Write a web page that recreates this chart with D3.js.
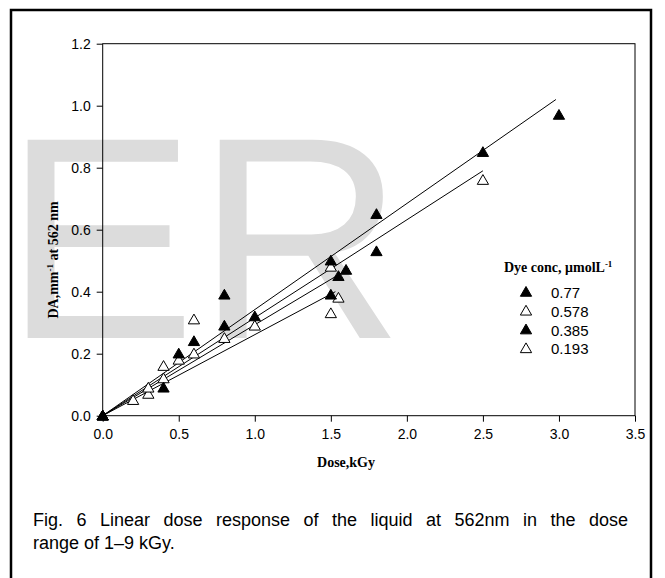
<!DOCTYPE html>
<html><head><meta charset="utf-8">
<script src="https://cdn.jsdelivr.net/npm/d3@7"></script>
<style>body{margin:0;background:#fff}svg{display:block}</style>
</head><body>
<script>
// ---- data ----
const xTicks = [0.0, 0.5, 1.0, 1.5, 2.0, 2.5, 3.0, 3.5];
const yTicks = [0.0, 0.2, 0.4, 0.6, 0.8, 1.0, 1.2];
const seriesNames = ["0.77", "0.578", "0.385", "0.193"];
const seriesFilled = [true, false, true, false];
const dose077 = [0, 0.5, 0.8, 1.0, 1.5, 1.8, 2.5, 3.0];
const da077   = [0, 0.20, 0.39, 0.32, 0.50, 0.65, 0.85, 0.97];
const dose0578 = [0, 0.3, 0.4, 0.5, 0.6, 0.8, 1.0, 1.5, 2.5];
const da0578   = [0, 0.09, 0.16, 0.18, 0.31, 0.25, 0.29, 0.48, 0.76];
const dose0385 = [0, 0.4, 0.6, 0.8, 1.5, 1.55, 1.6, 1.8];
const da0385   = [0, 0.09, 0.24, 0.29, 0.39, 0.45, 0.47, 0.53];
const dose0193 = [0, 0.2, 0.3, 0.4, 0.6, 1.5, 1.55];
const da0193   = [0, 0.05, 0.07, 0.12, 0.20, 0.33, 0.38];
// fitted lines through origin: end point of each
const fitEndDose = [2.98, 2.50, 1.62, 1.53];
const fitEndDA   = [1.02, 0.79, 0.475, 0.40];
const xTitle = "Dose,kGy";
const captionLines = ["Fig. 6 Linear dose response of the liquid at 562nm in the dose", "range of 1\u20139 kGy."];

const doses = [dose077, dose0578, dose0385, dose0193];
const das = [da077, da0578, da0385, da0193];

const W = 665, H = 578;
const svg = d3.select("body").append("svg").attr("width", W).attr("height", H);
svg.append("rect").attr("width", W).attr("height", H).attr("fill", "#fff");

// watermark
svg.append("text").attr("x", 4).attr("y", 338)
  .attr("font-family", "Liberation Sans, Arial, sans-serif").attr("font-size", 288)
  .attr("fill", "#dcdcdc").text("ER");

// outer frame
svg.append("rect").attr("x", 11).attr("y", 10).attr("width", 640).attr("height", 620)
  .attr("fill", "none").attr("stroke", "#000").attr("stroke-width", 2.5);

const L = 102.7, R = 635, T = 43.7, B = 415.7;
const x = d3.scaleLinear().domain([0, 3.5]).range([L, R]);
const y = d3.scaleLinear().domain([0, 1.2]).range([B, T]);

const tickFont = "Liberation Sans, Arial, sans-serif";
const gx = svg.append("g").attr("transform", `translate(0,${B})`)
  .call(d3.axisBottom(x).tickValues(xTicks).tickFormat(d3.format(".1f")).tickSize(6).tickPadding(7));
const gy = svg.append("g").attr("transform", `translate(${L},0)`)
  .call(d3.axisLeft(y).tickValues(yTicks).tickFormat(d3.format(".1f")).tickSize(6).tickPadding(6));
[gx, gy].forEach(g => {
  g.select(".domain").remove();
  g.selectAll("line").attr("stroke", "#000").attr("stroke-width", 1);
  g.selectAll("text").attr("font-family", tickFont).attr("font-size", 14).attr("fill", "#000");
});
// plot box
svg.append("rect").attr("x", L).attr("y", T).attr("width", R - L).attr("height", B - T)
  .attr("fill", "none").attr("stroke", "#000").attr("stroke-width", 1);

// fit lines
fitEndDose.forEach((d, i) => {
  svg.append("line").attr("x1", x(0)).attr("y1", y(0)).attr("x2", x(d)).attr("y2", y(fitEndDA[i]))
    .attr("stroke", "#000").attr("stroke-width", 1);
});

const tri = d3.symbol().type(d3.symbolTriangle).size(55);
function marker(g, filled) {
  g.attr("d", tri).attr("fill", filled ? "#000" : "#fff").attr("stroke", "#000").attr("stroke-width", 1);
}
// draw open series first, then filled
[3, 1, 2, 0].forEach(i => {
  svg.append("g").selectAll("path").data(doses[i].map((d, k) => [d, das[i][k]])).join("path")
    .attr("transform", d => `translate(${x(d[0])},${y(d[1]) + 1})`)
    .call(marker, seriesFilled[i]);
});

// axis titles
svg.append("text").attr("x", 346).attr("y", 467).attr("text-anchor", "middle")
  .attr("font-family", "Liberation Serif, Times New Roman, serif").attr("font-weight", "bold")
  .attr("font-size", 14).text(xTitle);
const yl = svg.append("text").attr("transform", "translate(58,260) rotate(-90)").attr("text-anchor", "middle")
  .attr("font-family", "Liberation Serif, Times New Roman, serif").attr("font-weight", "bold").attr("font-size", 14);
yl.append("tspan").text("DA,mm");
yl.append("tspan").attr("dy", -5).attr("font-size", 9).text("-1");
yl.append("tspan").attr("dy", 5).text(" at 562 nm");

// legend
const lt = svg.append("text").attr("x", 504).attr("y", 272)
  .attr("font-family", "Liberation Serif, Times New Roman, serif").attr("font-weight", "bold").attr("font-size", 14);
lt.append("tspan").text("Dye conc, \u03bcmolL");
lt.append("tspan").attr("dy", -5).attr("font-size", 9).text("-1");
seriesNames.forEach((n, i) => {
  const cy = 293 + i * 18.8;
  svg.append("path").attr("transform", `translate(526,${cy})`).call(marker, seriesFilled[i]);
  svg.append("text").attr("x", 551).attr("y", cy + 5).attr("font-family", tickFont).attr("font-size", 15).text(n);
});

// caption
const capFont = 18;
const c1 = svg.append("text").attr("x", 33).attr("y", 526).attr("font-family", tickFont)
  .attr("font-size", capFont).text(captionLines[0]);
const w1 = c1.node().getComputedTextLength();
const spaces = (captionLines[0].match(/ /g) || []).length;
c1.attr("word-spacing", (628 - 33 - w1) / spaces);
svg.append("text").attr("x", 33).attr("y", 549).attr("font-family", tickFont)
  .attr("font-size", capFont).text(captionLines[1]);
</script>
</body></html>
